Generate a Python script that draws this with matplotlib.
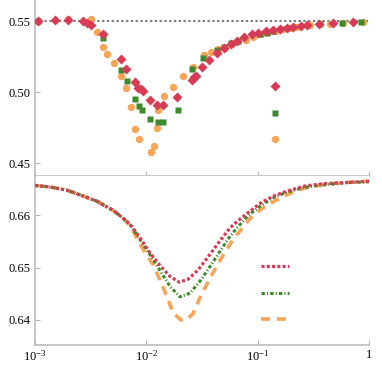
import numpy as np
import matplotlib
matplotlib.use("Agg")
import matplotlib.pyplot as plt
from matplotlib.lines import Line2D

plt.rcParams["font.family"] = ["Liberation Serif", "DejaVu Serif"]
plt.rcParams["mathtext.default"] = "regular"

# ---- top panel: scattered points (x on log scale) ----
red_x = [0.00107, 0.00151, 0.00199, 0.00272, 0.00295, 0.00318, 0.00411, 0.00592, 0.00656, 0.00791,
         0.00847, 0.00889, 0.00927, 0.01079, 0.01256, 0.01422, 0.01872, 0.02553, 0.02680, 0.02792,
         0.03162, 0.03681, 0.04285, 0.04989, 0.05719, 0.06564, 0.07586, 0.08831, 0.1014, 0.1180,
         0.1384, 0.1589, 0.1822, 0.2090, 0.2449, 0.2754, 0.3581, 0.4784, 0.7236]
red_y = [0.5500, 0.5507, 0.5507, 0.5500, 0.5488, 0.5472, 0.5406, 0.5235, 0.5163, 0.5069,
         0.5031, 0.5020, 0.5006, 0.4945, 0.4914, 0.4914, 0.4970, 0.5085, 0.5104, 0.5113,
         0.5179, 0.5226, 0.5278, 0.5313, 0.5338, 0.5362, 0.5385, 0.5406, 0.5418, 0.5430,
         0.5434, 0.5444, 0.5453, 0.5460, 0.5467, 0.5472, 0.5479, 0.5488, 0.5495]

green_x = [0.00107, 0.00411, 0.00592, 0.00665, 0.00791, 0.00865, 0.00908, 0.01079, 0.01283, 0.01422,
           0.01910, 0.02553, 0.03206, 0.04345, 0.05020, 0.05754, 0.06700, 0.1050, 0.1222, 0.1384,
           0.3640, 0.5700, 0.8400]
green_y = [0.5502, 0.5380, 0.5156, 0.5076, 0.4952, 0.4903, 0.4875, 0.4813, 0.4791, 0.4791,
           0.4875, 0.5160, 0.5240, 0.5296, 0.5315, 0.5348, 0.5362, 0.5411, 0.5419, 0.5432,
           0.5479, 0.5484, 0.5492]

orange_x = [0.00107, 0.00199, 0.00316, 0.00358, 0.00411, 0.00441, 0.00517, 0.00592, 0.00656, 0.00723,
            0.00791, 0.00865, 0.01094, 0.01180, 0.01256, 0.01283, 0.01452, 0.01725, 0.02149, 0.02606,
            0.03296, 0.03810, 0.04433, 0.05088, 0.05838, 0.06700, 0.07850, 0.09141, 0.1064, 0.1247,
            0.1462, 0.1702, 0.1951, 0.2240, 0.2951, 0.4467, 0.5879, 0.8892]
orange_y = [0.5502, 0.5516, 0.5512, 0.5425, 0.5320, 0.5267, 0.5207, 0.5114, 0.5027, 0.4898,
            0.4739, 0.4669, 0.4584, 0.4626, 0.4751, 0.4875, 0.4974, 0.5040, 0.5113, 0.5179,
            0.5261, 0.5284, 0.5301, 0.5313, 0.5336, 0.5362, 0.5366, 0.5390, 0.5409, 0.5420,
            0.5432, 0.5444, 0.5448, 0.5460, 0.5472, 0.5479, 0.5484, 0.5491]

ref_level = 0.55

# ---- bottom panel: curves, log10(x) ----
red_lx = [-3.0, -2.865, -2.716, -2.596, -2.446, -2.296, -2.207, -2.146, -2.057, -1.967, -1.877,
          -1.787, -1.703, -1.622, -1.533, -1.443, -1.353, -1.248, -1.173, -1.068, -0.963,
          -0.844, -0.724, -0.574, -0.424, -0.244, 0.0]
red_c = [0.6657, 0.6654, 0.6648, 0.6639, 0.6627, 0.6609, 0.6594, 0.6583, 0.6557, 0.6528, 0.6504,
         0.6483, 0.6472, 0.6478, 0.6496, 0.6521, 0.6547, 0.6576, 0.6590, 0.6608, 0.6625,
         0.6638, 0.6647, 0.6656, 0.6660, 0.6662, 0.6665]

green_lx = [-3.0, -2.865, -2.716, -2.596, -2.446, -2.296, -2.207, -2.146, -2.027, -1.937, -1.862,
            -1.787, -1.698, -1.608, -1.518, -1.428, -1.338, -1.248, -1.173, -1.083, -0.979,
            -0.874, -0.754, -0.604, -0.455, -0.215, 0.0]
green_c = [0.6657, 0.6654, 0.6648, 0.6639, 0.6627, 0.6609, 0.6594, 0.6582, 0.6544, 0.6515, 0.6489,
           0.6464, 0.6444, 0.6451, 0.6474, 0.6502, 0.6531, 0.6560, 0.6579, 0.6600, 0.6617,
           0.6632, 0.6643, 0.6652, 0.6657, 0.6662, 0.6664]

orange_lx = [-3.0, -2.865, -2.716, -2.596, -2.446, -2.296, -2.207, -2.146, -2.012, -1.937, -1.847,
             -1.757, -1.690, -1.630, -1.580, -1.518, -1.412, -1.344, -1.278, -1.218, -1.143,
             -1.068, -0.979, -0.874, -0.769, -0.665, -0.544, -0.365, -0.185, 0.0]
orange_c = [0.6657, 0.6654, 0.6648, 0.6639, 0.6627, 0.6609, 0.6594, 0.6580, 0.6528, 0.6505, 0.6461,
            0.6413, 0.6400, 0.6402, 0.6412, 0.6443, 0.6486, 0.6512, 0.6534, 0.6555, 0.6574,
            0.6594, 0.6610, 0.6624, 0.6636, 0.6646, 0.6654, 0.6660, 0.6663, 0.6665]

xticks = [1e-3, 1e-2, 1e-1, 1]
xticklabels = ["$10^{-3}$", "$10^{-2}$", "$10^{-1}$", "1"]
top_yticks = [0.45, 0.50, 0.55]
bot_yticks = [0.64, 0.65, 0.66]

RED, GREEN, ORANGE = "#d83b55", "#3d8a2c", "#f8a457"
GRAY = "#b8b8b8"

fig = plt.figure(figsize=(3.82, 3.66), dpi=100)
W, H = 382, 366
ax1 = fig.add_axes([35 / W, (H - 176) / H, 334 / W, 176 / H])
ax2 = fig.add_axes([35 / W, (H - 345) / H, 334 / W, 169 / H])

def style(ax):
    ax.set_xscale("log")
    ax.set_xlim(1e-3, 1)
    for s in ("top", "right"):
        ax.spines[s].set_visible(False)
    for s in ("left", "bottom"):
        ax.spines[s].set_color(GRAY)
        ax.spines[s].set_linewidth(1.1)
    ax.tick_params(direction="in", length=3.5, width=0.8, color=GRAY, labelsize=9, pad=3)
    ax.tick_params(axis="x", which="minor", bottom=False)
    ax.set_xticks(xticks)

MS_D, MS_S, MS_O = 4.9, 4.6, 5.3

# top
ax1.axhline(ref_level, color="#7a7a7a", lw=1.5, ls=(0, (1.1, 1.2)), zorder=1)
ax1.plot(orange_x, orange_y, "o", color=ORANGE, ms=MS_O, mec="none", zorder=2)
ax1.plot(green_x, green_y, "s", color=GREEN, ms=MS_S, mec="none", zorder=3)
ax1.plot(red_x, red_y, "D", color=RED, ms=MS_D, mec="none", zorder=4)
style(ax1)
ax1.set_xticklabels([])
ax1.set_ylim(0.4412, 0.5648)
ax1.set_yticks(top_yticks)
ax1.set_yticklabels(["0.45", "0.50", "0.55"])

h1 = [Line2D([], [], ls="none", marker="D", color=RED, ms=MS_D, mec="none"),
      Line2D([], [], ls="none", marker="s", color=GREEN, ms=MS_S, mec="none"),
      Line2D([], [], ls="none", marker="o", color=ORANGE, ms=MS_O, mec="none")]
ax1.legend(h1, ["", "", ""], loc="center", bbox_to_anchor=(275 / W, (H - 114) / H),
           bbox_transform=fig.transFigure, frameon=False, handletextpad=0, borderpad=0,
           handlelength=1.0, labelspacing=0.95, fontsize=10)

# bottom
red_xs = 10 ** np.array(red_lx)
green_xs = 10 ** np.array(green_lx)
orange_xs = 10 ** np.array(orange_lx)
l_or, = ax2.plot(orange_xs, orange_c, color=ORANGE, lw=2.6, ls=(0, (2.5, 1.9)), zorder=2)
l_gr, = ax2.plot(green_xs, green_c, color=GREEN, lw=2.2, ls=(0, (1.1, 0.7, 0.35, 0.7)), zorder=3)
l_rd, = ax2.plot(red_xs, red_c, color=RED, lw=2.3, ls=(0, (0.95, 0.7)), zorder=4)
style(ax2)
ax2.set_xticklabels(xticklabels)
ax2.set_ylim(0.6352, 0.6675)
ax2.set_yticks(bot_yticks)
ax2.set_yticklabels(["0.64", "0.65", "0.66"])
ax2.legend([l_rd, l_gr, l_or], ["", "", ""], loc="center", bbox_to_anchor=(275 / W, (H - 294) / H),
           bbox_transform=fig.transFigure, frameon=False, handletextpad=0, borderpad=0,
           handlelength=2.0, labelspacing=0.95, fontsize=10)

fig.savefig("out.png", dpi=100)
